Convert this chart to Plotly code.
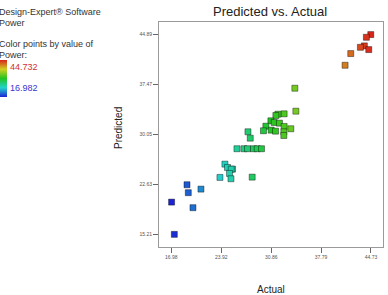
import base64
import plotly.graph_objects as go

actual = [44.70, 44.09, 43.81, 43.26, 44.42, 41.92, 41.13, 34.15, 34.29, 32.66,
          31.79, 31.51, 30.82, 31.28, 32.01, 30.12, 32.66, 33.59, 29.79, 30.86,
          31.46, 32.62, 32.62, 27.63, 27.95, 26.10, 27.07, 27.57, 28.40, 28.92,
          29.51, 24.43, 24.79, 25.49, 25.31, 25.07, 25.27, 23.74, 28.22, 19.16,
          19.34, 21.10, 17.02, 19.99, 17.40]
predicted = [44.89, 44.49, 43.21, 43.00, 42.66, 42.07, 40.33, 36.92, 33.51, 33.12,
             33.06, 32.87, 32.08, 31.83, 31.73, 31.28, 31.24, 30.90, 30.60, 30.69,
             30.54, 30.45, 29.90, 30.45, 29.50, 27.93, 27.93, 27.93, 27.93, 27.93,
             27.93, 25.64, 25.15, 24.90, 24.90, 24.26, 23.47, 23.67, 23.71, 22.58,
             21.40, 21.93, 20.00, 19.17, 15.21]

x_ticks = [16.98, 23.92, 30.86, 37.79, 44.73]
y_ticks = [15.21, 22.63, 30.05, 37.47, 44.89]
power_min = 16.982
power_max = 44.732

W, H = 388, 295
ML, MR, MT, MB = 159, 5, 22, 48
PW = W - ML - MR
PH = H - MT - MB


def px(xp):
    return (xp - ML) / PW


def py(yp):
    return (H - MB - yp) / PH


cscale = [[0.0, '#1c22d6'], [0.25, '#22d2cc'], [0.5, '#22c422'],
          [0.75, '#cfd022'], [1.0, '#d8241c']]

# gradient swatch for the colour legend (top = max, bottom = min)
stops = ''.join('<stop offset="%g" stop-color="%s"/>' % (1 - s, c) for s, c in reversed(cscale))
svg = ('<svg xmlns="http://www.w3.org/2000/svg" width="7" height="37" preserveAspectRatio="none">'
       '<defs><linearGradient id="g" x1="0" y1="0" x2="0" y2="1">' + stops +
       '</linearGradient></defs><rect width="7" height="37" fill="url(#g)"/></svg>')
svg_uri = 'data:image/svg+xml;base64,' + base64.b64encode(svg.encode()).decode()

fig = go.Figure()
fig.add_trace(go.Scatter(
    x=actual, y=predicted, mode='markers',
    marker=dict(symbol='square', size=6, color=actual, colorscale=cscale,
                cmin=power_min, cmax=power_max,
                line=dict(color='rgba(0,0,0,0.4)', width=1),
                showscale=False),
    hoverinfo='skip', showlegend=False))

axis_common = dict(showline=True, mirror=True, linecolor='#9a9a9a', linewidth=1,
                   showgrid=False, zeroline=False, ticks='outside', ticklen=5,
                   tickcolor='#666', tickfont=dict(size=5, color='#555'))

fig.update_xaxes(range=[15.27, 46.40], tickvals=x_ticks,
                 ticktext=['%.2f' % v for v in x_ticks], **axis_common)
fig.update_yaxes(range=[13.33, 46.76], tickvals=y_ticks,
                 ticktext=['%.2f' % v for v in y_ticks], **axis_common)

font_fam = 'Liberation Sans, Arial, sans-serif'
ann = [
    dict(text='Predicted vs. Actual', x=px(270), y=py(12), size=13, color='#222', xanchor='center'),
    dict(text='Actual', x=px(271), y=py(289), size=10, color='#222', xanchor='center'),
    dict(text='Design-Expert® Software', x=px(-3), y=py(11.7), size=9, color='#333', xanchor='left'),
    dict(text='Power', x=px(-3), y=py(23), size=9, color='#333', xanchor='left'),
    dict(text='Color points by value of', x=px(-3), y=py(44.3), size=9, color='#333', xanchor='left'),
    dict(text='Power:', x=px(-3), y=py(55), size=9, color='#333', xanchor='left'),
    dict(text='%.3f' % power_max, x=px(8), y=py(66.7), size=9, color='#d03030', xanchor='left'),
    dict(text='%.3f' % power_min, x=px(8), y=py(88.3), size=9, color='#3535d0', xanchor='left'),
]
annotations = [dict(text=a['text'], x=a['x'], y=a['y'], xref='paper', yref='paper',
                    xanchor=a['xanchor'], yanchor='middle', showarrow=False,
                    font=dict(size=a['size'], color=a['color'], family=font_fam))
               for a in ann]
annotations.append(dict(text='Predicted', x=px(118), y=py(128), xref='paper', yref='paper',
                        xanchor='center', yanchor='middle', showarrow=False, textangle=-90,
                        font=dict(size=10, color='#222', family=font_fam)))

fig.update_layout(width=W, height=H, margin=dict(l=ML, r=MR, t=MT, b=MB),
                  paper_bgcolor='white', plot_bgcolor='white',
                  font=dict(family=font_fam), annotations=annotations,
                  images=[dict(source=svg_uri, xref='paper', yref='paper',
                               x=px(0), y=py(60), sizex=7 / PW, sizey=37 / PH,
                               xanchor='left', yanchor='top', sizing='stretch',
                               layer='above')])

fig.write_html('out.html')
